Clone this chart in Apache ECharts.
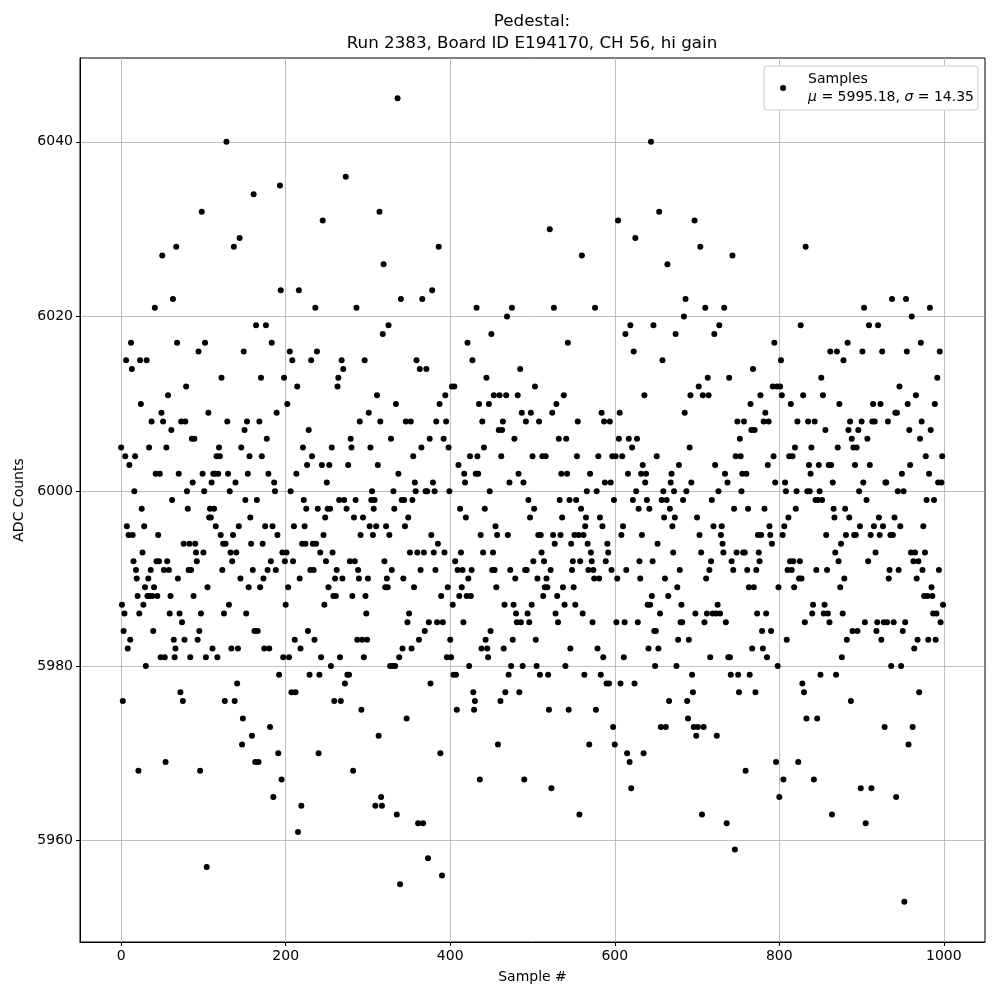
<!DOCTYPE html>
<html>
<head>
<meta charset="utf-8">
<title>Pedestal</title>
<script src="https://cdn.jsdelivr.net/npm/echarts@6/dist/echarts.min.js"></script>
<style>
  html, body { margin: 0; padding: 0; background: #fff; }
  #chart { width: 1000px; height: 1000px; }
</style>
</head>
<body>
<div id="chart"></div>
<script>
const titleLines = ["Pedestal:", "Run 2383, Board ID E194170, CH 56, hi gain"];
const xTicks = [0, 200, 400, 600, 800, 1000];
const yTicks = [5960, 5980, 6000, 6020, 6040];
const legendLines = ["Samples", "μ = 5995.18, σ = 14.35"];

// ADC value of each sample, in sample order
const adcCounts = [
  6005, 5987, 5976, 5984, 5986, 6004, 6015, 5996, 5982, 5995, 6003, 5983, 6017, 6014, 5995, 5992, 6000, 6004, 5991, 5990,
  5988, 5968, 5986, 6015, 6010, 5998, 5993, 5987, 5996, 5989, 5980, 6015, 5988, 5990, 6005, 5988, 5991, 6008, 5988, 5984,
  5989, 6021, 6002, 5992, 5988, 5995, 5992, 6002, 5981, 6009, 6027, 6008, 5991, 5981, 5969, 6005, 5992, 6011, 5991, 5986,
  5988, 6007, 5999, 6022, 5983, 5981, 5982, 6028, 6017, 5990, 6002, 5986, 5977, 6008, 5985, 5976, 5994, 5983, 6008, 6012,
  6000, 5998, 5991,
  5994, 5981, 5991, 6006, 6001, 5988, 6006, 5994, 5993, 5992, 5983, 6016, 5984, 5968, 5986, 6032, 6002, 5993, 6000, 6017,
  5981, 5957, 5989, 6009, 5997, 5998, 5997, 6001, 5982, 6002, 5998, 6002, 5996, 6004, 5981, 6002, 6005, 6004, 5995, 6013,
  5991, 5994, 5986, 5976, 5994, 6040, 6008, 6002, 5987, 6000, 5993, 5982, 5992, 5995, 6028, 5976, 6001, 5993, 5978, 5982,
  5996, 6029, 5990, 6005, 5971, 5974, 6016, 6007, 5999, 5986, 6008, 6002, 5989, 6004, 5997, 5994, 5972, 5991, 6034, 5984,
  5969, 6019, 5999, 5984, 5969, 6008, 5989,
  6013, 6004, 5994, 5990, 5982, 5996, 6019, 6006, 5991, 6002, 5982, 5973, 5992, 6017, 5996, 5965, 6001, 6000, 5991, 6009,
  5995, 5970, 5979, 6035, 6023, 5967, 5993, 5981, 6013, 5992, 5987, 5993, 6010, 5989, 5981, 6016, 6000, 5977, 6015, 5992,
  5996, 5983, 5977, 6002, 6012, 5961, 6023, 5990, 5982, 5964, 5994, 6005, 5999, 5996, 5994, 5998, 6003, 5984, 6007, 5979,
  5991, 6015, 6004, 5994, 5991, 5983, 6021, 5994, 6016, 5998, 5970, 5979, 5993, 5981, 6003, 6031, 5995, 5987, 5997, 5992,
  6001, 5998, 5989,
  6003, 5998, 5980, 6005, 5993, 5988, 5976, 5990, 5988, 5991, 6012, 6013, 5999, 5981, 5976, 6015, 5990, 6014, 5999, 5978,
  6036, 5998, 5979, 6003, 5979, 5992, 6006, 6005, 5988, 5968, 5997, 5992, 5999, 6021, 5983, 5991, 5990, 6008, 5995, 5975,
  5983, 5997, 5981, 6015, 5988, 5986, 5983, 5990, 6009, 5996, 6005, 5999, 6000, 5995, 5998, 5999, 5964, 5996, 6011, 6003,
  5972, 6032, 6008, 5965, 5964, 6018, 6026, 5992, 5989, 5996, 5990, 5989, 6019, 5995, 5980, 6006, 5991, 5980, 6000, 5998,
  5980, 6010, 5963, 6045, 6002, 5981, 5955,
  6022, 5999, 5982, 5990, 5999, 5996, 6008, 5974, 5985, 5997, 5986, 5993, 6008, 5982, 5999, 6004, 5989, 6001, 6000, 6015,
  5993, 5962, 5983, 6014, 5991, 6005, 6022, 5962, 5993, 5984, 6000, 6014, 6000, 5958, 5985, 6006, 5978, 5995, 6023, 6001,
  5993, 6000, 5991, 6008, 5985, 5994, 6028, 6010, 5970, 5988, 5956, 5985, 6006, 5993, 6011, 6008, 5981, 5989, 6005, 6000,
  5983, 5981, 6012, 5987, 5979, 6012, 5992, 5979, 5975, 5991, 6003, 5988, 5998, 5993, 5989, 5991, 5985, 6002, 6001, 5997,
  5988, 6017, 5990,
  5980, 6004, 5988, 5991, 6015, 5977, 5975, 5976, 6002, 6021, 6004, 6002, 6010, 5967, 5995, 5982, 6008, 5993, 6005, 5998,
  5983, 6013, 5982, 5981, 6010, 6000, 5984, 6018, 5991, 5993, 6011, 5991, 5996, 5989, 5995, 5971, 6007, 6011, 5976, 6004,
  6007, 6008, 5982, 5987, 5977, 6011, 6020, 5995, 5979, 6001, 5991, 5980, 6021, 5983, 5987, 6006, 5990, 5986, 5985, 6011,
  6002, 5977, 6014, 5985, 6009, 5980, 6001, 5967, 5991, 6008, 5991, 5986, 5999, 5985, 5997, 6009, 5987, 6004, 5992, 5998,
  6012, 5983, 5980,
  5990, 5995, 6008, 5979, 5995, 5993, 6004, 5988, 5992, 5989, 6004, 5990, 5989, 5979, 5975, 6030, 5991, 5966, 6009, 5995,
  6021, 5994, 5986, 6010, 5988, 5985, 6006, 5999, 5995, 6002, 5997, 5989, 6011, 5987, 5980, 6006, 6002, 6017, 5975, 5999,
  5982, 5994, 5991, 5992, 5989, 5995, 5987, 5999, 6004, 6008, 5995, 5963, 5992, 5998, 6027, 5986, 5995, 5979, 5996, 5997,
  6000, 5994, 5991, 5971, 6002, 5993, 5992, 5985, 5991, 5990, 6021, 5975, 6000, 5982, 6004, 5990, 5997, 5979, 6009, 5996,
  5981, 6008, 6001, 5992,
  5978, 5994, 5993, 5978, 6008, 6001, 5991, 6004, 5973, 5999, 5971, 6004, 5985, 5990, 6031, 6006, 6009, 5978, 5995, 6004,
  5996, 5981, 5985, 6018, 5991, 5970, 6002, 6006, 5969, 6019, 5966, 6005, 5999, 6016, 5978, 6029, 6000, 6006, 5985, 5998,
  5992, 5990, 6002, 5995, 6003, 5970, 6011, 6001, 6002, 5999, 5987, 5982, 5998, 5987, 6040, 5988, 5992, 6019, 5984, 5980,
  5984, 6004, 5994, 5982, 6032, 5986, 5973, 5999, 6015, 6000, 5997, 5990, 5973, 5999, 6026, 5988, 5976, 5998, 6001, 6002,
  5996, 5993, 6000, 5997, 6018,
  5980, 5989, 5983, 6003, 5991, 5985, 5987, 5985, 5999, 6020, 6009, 6022, 6000, 5976, 5974, 5983, 6005, 6011, 6001, 5979,
  5977, 5973, 6031, 5986, 5972, 5997, 5973, 6012, 5995, 6028, 5993, 5963, 6011, 5973, 5985, 6021, 5990, 5986, 6013, 6011,
  5991, 5981, 5992, 5999, 5986, 5996, 6018, 6003, 5986, 5972, 5987, 6000, 6019, 5986, 5995, 5996, 5994, 5993, 6021, 6002,
  5985, 5962, 6001, 5981, 6013, 5981, 5979, 5992, 6027, 5991, 5998, 5959, 6004, 5993, 6008, 5979, 5977, 6006, 6004, 6000,
  6002, 5993, 6008, 5993, 5968,
  6002, 5991, 5998, 5989, 5979, 6010, 6007, 5982, 6014, 5989, 6007, 5977, 5991, 5986, 5995, 5993, 5992, 6011, 5995, 5984,
  5982, 6008, 5998, 6009, 5986, 5981, 6003, 6008, 5996, 5995, 5984, 5994, 6012, 6004, 6017, 6001, 5969, 6012, 5980, 5989,
  5965, 6012, 6015, 6011, 5995, 5967, 5996, 6001, 6000, 5983, 5991, 5997, 6004, 5992, 6010, 5991, 6004, 5992, 5989, 6005,
  5998, 6000, 6008, 5969, 5990, 5992, 6019, 5990, 5978, 6011, 5977, 5985, 6028, 5974, 6000, 6008, 6003, 6000, 6002, 6005,
  5986, 5987, 5967, 6008, 5999,
  5991, 5974, 5999, 6003, 6000, 5979, 6013, 5999, 6011, 5986, 5987, 6007, 5995, 5991, 5986, 6003, 5985, 6016, 6003, 5963,
  6001, 5998, 5997, 5993, 5979, 6016, 6005, 5992, 6010, 5989, 5994, 5981, 5986, 6015, 5990, 5998, 5995, 5983, 6017, 6007,
  5997, 6008, 5976, 6006, 5984, 6005, 5995, 6003, 5995, 6005, 5984, 6007, 6000, 5996, 5966, 6008, 6016, 6001, 6021, 5985,
  5962, 5999, 6006, 5992, 6019, 6003, 5995, 5966, 6008, 6010, 5996, 6008, 5993, 5984, 5985, 6019, 5997, 5995, 6010, 5983,
  6016, 5996, 5985, 5973, 6001,
  6001, 5985, 6008, 5990, 5991, 5995, 5980, 6022, 5995, 5985, 5997, 6009, 5965, 6009, 6000, 5991, 6012, 5996, 5980, 6002,
  5984, 6000, 5953, 5985, 6022, 6016, 6010, 5971, 6007, 6003, 5993, 6020, 5973, 5992, 5982, 5993, 6011, 5990, 5983, 5992,
  5977, 6006, 6017, 6008, 5991, 5996, 5988, 5993, 6004, 5999, 5988, 5983, 6002, 6021, 6007, 5989, 5988, 5986, 5999, 6010,
  5983, 5986, 6013, 6001, 5991, 6016, 5985, 6001, 6004, 5987
];

const FONT = "DejaVu Sans";
const plain = (v) => String(v);

let chart = echarts.init(document.getElementById("chart"));
let option = {
  animation: false,
  backgroundColor: "#fff",
  textStyle: { fontFamily: FONT, color: "#000" },
  title: {
    text: titleLines.join("\n"),
    left: 532,
    top: 11,
    padding: 0,
    textAlign: "center",
    textStyle: { fontFamily: FONT, fontSize: 16.7, fontWeight: "normal", color: "#000", lineHeight: 22 },
  },
  legend: {
    data: ["Samples"],
    right: 22,
    top: 66,
    icon: "circle",
    itemWidth: 6,
    itemHeight: 6,
    padding: [4, 4, 4, 16],
    backgroundColor: "#fff",
    borderColor: "#cccccc",
    borderWidth: 1,
    borderRadius: 3,
    itemStyle: { color: "#000", opacity: 1 },
    formatter: () => legendLines[0] + "\n" + legendLines[1].replace("μ", "{it|μ}").replace("σ", "{it|σ}"),
    textStyle: {
      fontFamily: FONT,
      fontSize: 14,
      lineHeight: 18,
      color: "#000",
      padding: [0, 0, 0, 17],
      rich: { it: { fontStyle: "italic", fontFamily: FONT, fontSize: 14, lineHeight: 18 } },
    },
  },
  grid: { left: 80, right: 15, top: 58, bottom: 58, show: true, borderColor: "#000", borderWidth: 1 },
  xAxis: {
    type: "value",
    min: -50,
    max: 1050,
    name: "Sample #",
    nameLocation: "middle",
    nameGap: 28,
    nameTextStyle: { fontFamily: FONT, fontSize: 14, color: "#000" },
    axisLine: { onZero: false, lineStyle: { color: "#000", width: 1 } },
    axisTick: { show: true, length: 4, customValues: xTicks, lineStyle: { color: "#000" } },
    axisLabel: { customValues: xTicks, formatter: plain, fontFamily: FONT, fontSize: 14, color: "#000", margin: 7 },
    splitLine: { show: true, lineStyle: { color: "#b0b0b0", width: 0.8 } },
  },
  yAxis: {
    type: "value",
    min: 5948.4,
    max: 6049.6,
    name: "ADC Counts",
    nameLocation: "middle",
    nameRotate: 90,
    nameGap: 52,
    nameTextStyle: { fontFamily: FONT, fontSize: 14, color: "#000" },
    axisLine: { onZero: false, lineStyle: { color: "#000", width: 1 } },
    axisTick: { show: true, length: 4, customValues: yTicks, lineStyle: { color: "#000" } },
    axisLabel: { customValues: yTicks, formatter: plain, fontFamily: FONT, fontSize: 14, color: "#000", margin: 7 },
    splitLine: { show: true, lineStyle: { color: "#b0b0b0", width: 0.8 } },
  },
  series: [
    {
      name: "Samples",
      type: "scatter",
      symbol: "circle",
      symbolSize: 6,
      itemStyle: { color: "#000", opacity: 1 },
      data: adcCounts.map((v, i) => [i, v]),
    },
  ],
};
chart.setOption(option);
</script>
</body>
</html>
